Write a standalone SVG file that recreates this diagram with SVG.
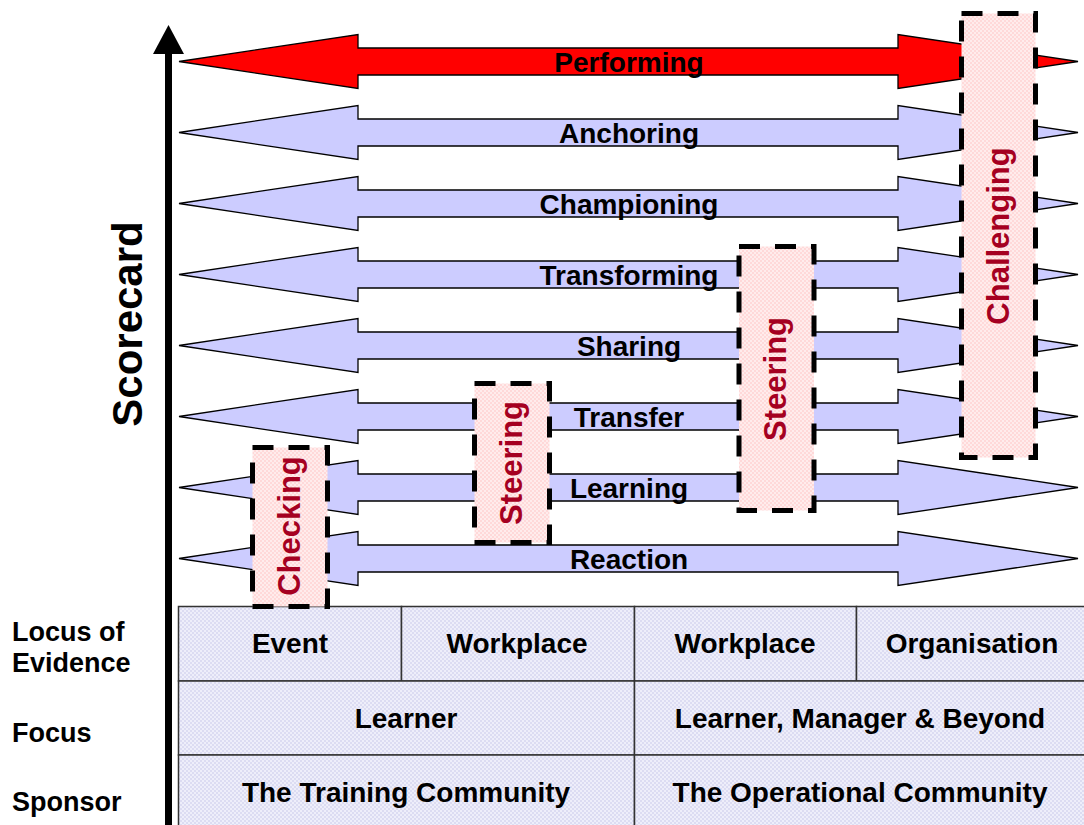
<svg xmlns="http://www.w3.org/2000/svg" xmlns:xlink="http://www.w3.org/1999/xlink" width="1084" height="825" viewBox="0 0 1084 825">
<style>
text{font-family:"Liberation Sans",Arial,sans-serif;font-weight:bold;}
.lbl{font-size:28px;fill:#000;text-anchor:middle;}
.side{font-size:27px;fill:#000;}
.box{fill:url(#pink);stroke:#000;stroke-width:5;stroke-dasharray:21 15;}
.boxt{font-size:31px;fill:#A50021;text-anchor:middle;}
.arr{stroke:#000;stroke-width:1.3;stroke-linejoin:miter;}
.blue{fill:#CCCCFF;}
.red{fill:#FF0000;}
.cell{fill:url(#lav);stroke:#333;stroke-width:1.5;}
</style>
<defs>
<pattern id="pink" width="4" height="4" patternUnits="userSpaceOnUse">
<rect width="4" height="4" fill="#FFECEC"/>
<rect width="2" height="2" fill="#FFD9D9"/>
<rect x="2" y="2" width="2" height="2" fill="#FFD9D9"/>
</pattern>
<pattern id="lav" width="4" height="4" patternUnits="userSpaceOnUse">
<rect width="4" height="4" fill="#EEEEFA"/>
<rect width="2" height="2" fill="#DCDCF2"/>
<rect x="2" y="2" width="2" height="2" fill="#DCDCF2"/>
</pattern>
<path id="dblarrow" d="M179,0 L358,-27 L358,-13.5 L898,-13.5 L898,-27 L1078,0 L898,27 L898,13.5 L358,13.5 L358,27 Z"/>
</defs>
<rect width="1084" height="825" fill="#fff"/>

<g id="connectors">
<line x1="168.5" y1="825" x2="168.5" y2="50" stroke="#000" stroke-width="7"/>
<path d="M168.5,25 L184,54 L153,54 Z" fill="#000"/>
</g>

<g id="scorecard-label">
<text transform="translate(142,324) rotate(-90)" font-size="42" text-anchor="middle">Scorecard</text>
</g>

<g id="arrow-performing"><use xlink:href="#dblarrow" class="arr red" y="61.5"/></g>
<g id="arrow-anchoring"><use xlink:href="#dblarrow" class="arr blue" y="132.5"/></g>
<g id="arrow-championing"><use xlink:href="#dblarrow" class="arr blue" y="203.5"/></g>
<g id="arrow-transforming"><use xlink:href="#dblarrow" class="arr blue" y="274.5"/></g>
<g id="arrow-sharing"><use xlink:href="#dblarrow" class="arr blue" y="345.5"/></g>
<g id="arrow-transfer"><use xlink:href="#dblarrow" class="arr blue" y="416.5"/></g>
<g id="arrow-learning"><use xlink:href="#dblarrow" class="arr blue" y="487.5"/></g>
<g id="arrow-reaction"><use xlink:href="#dblarrow" class="arr blue" y="558.5"/></g>

<g id="arrow-labels">
<text class="lbl" x="629" y="72">Performing</text>
<text class="lbl" x="629" y="143">Anchoring</text>
<text class="lbl" x="629" y="214">Championing</text>
<text class="lbl" x="629" y="285">Transforming</text>
<text class="lbl" x="629" y="356">Sharing</text>
<text class="lbl" x="629" y="427">Transfer</text>
<text class="lbl" x="629" y="498">Learning</text>
<text class="lbl" x="629" y="569">Reaction</text>
</g>

<g id="table">
<rect class="cell" x="178.5" y="606.5" width="223" height="74.5"/>
<rect class="cell" x="401.5" y="606.5" width="233" height="74.5"/>
<rect class="cell" x="634.5" y="606.5" width="222" height="74.5"/>
<rect class="cell" x="856.5" y="606.5" width="230" height="74.5"/>
<rect class="cell" x="178.5" y="681" width="456" height="74"/>
<rect class="cell" x="634.5" y="681" width="452" height="74"/>
<rect class="cell" x="178.5" y="755" width="456" height="73"/>
<rect class="cell" x="634.5" y="755" width="452" height="73"/>
<text class="lbl" x="290" y="653">Event</text>
<text class="lbl" x="517" y="653">Workplace</text>
<text class="lbl" x="745" y="653">Workplace</text>
<text class="lbl" x="972" y="653">Organisation</text>
<text class="lbl" x="406" y="728">Learner</text>
<text class="lbl" x="860" y="728">Learner, Manager &amp; Beyond</text>
<text class="lbl" x="406" y="802">The Training Community</text>
<text class="lbl" x="860" y="802">The Operational Community</text>
</g>

<g id="row-labels">
<text class="side" x="12" y="641">Locus of</text>
<text class="side" x="12" y="672">Evidence</text>
<text class="side" x="12" y="742">Focus</text>
<text class="side" x="12" y="811">Sponsor</text>
</g>

<g id="box-checking">
<rect class="box" x="252.5" y="447.5" width="75" height="159"/>
<text class="boxt" transform="translate(300,526) rotate(-90)">Checking</text>
</g>
<g id="box-steering-1">
<rect class="box" x="474.5" y="383.5" width="75" height="159"/>
<text class="boxt" transform="translate(522,463) rotate(-90)">Steering</text>
</g>
<g id="box-steering-2">
<rect class="box" x="739" y="246.5" width="75" height="264"/>
<text class="boxt" transform="translate(786,379) rotate(-90)">Steering</text>
</g>
<g id="box-challenging">
<rect class="box" x="961.5" y="13.5" width="74" height="444"/>
<text class="boxt" transform="translate(1009,236) rotate(-90)">Challenging</text>
</g>
</svg>
